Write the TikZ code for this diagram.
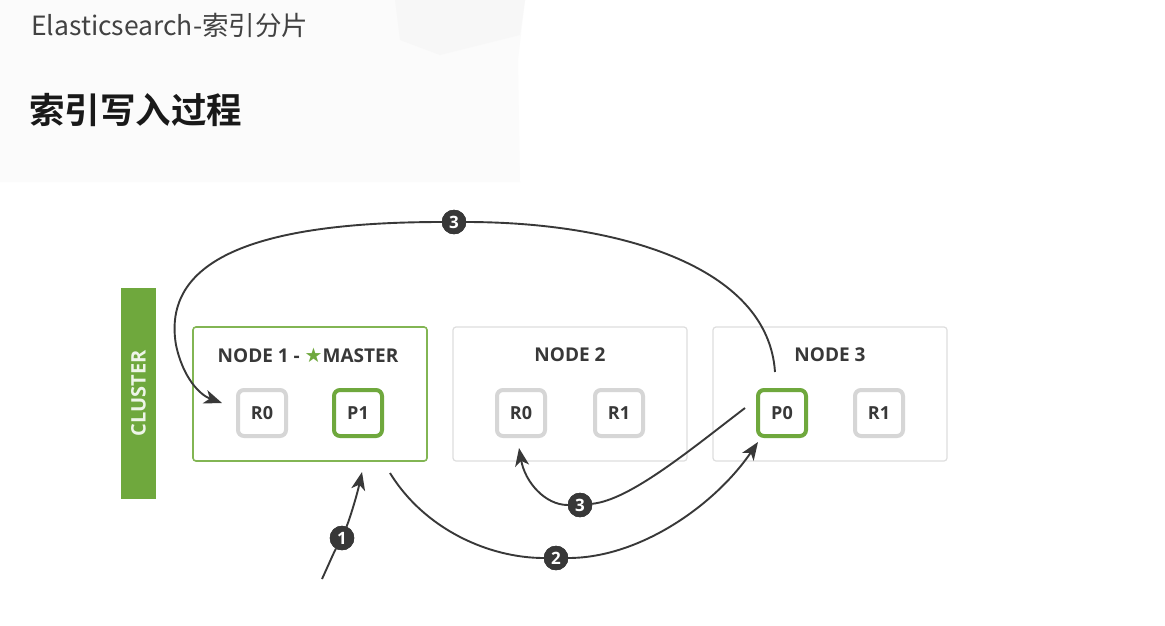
\documentclass[tikz,border=0pt]{standalone}
\usepackage{fontspec}
\setmainfont{Open Sans}
\newfontfamily\cjk{Noto Sans CJK SC}
\newfontfamily\cjkb{Noto Sans CJK SC}[BoldFont={* Bold}]
\newfontfamily\djv{DejaVu Sans}
\usetikzlibrary{arrows.meta}
\definecolor{esgreen}{HTML}{6FA83D}
\definecolor{esgreenl}{HTML}{82B553}
\definecolor{esgray}{HTML}{D6D6D6}
\definecolor{boxgray}{HTML}{DEDEDE}
\definecolor{ink}{HTML}{383838}
\tikzset{
  esbox/.style={draw=boxgray, line width=1.2pt, rounded corners=3pt, minimum width=234pt, minimum height=134pt, inner sep=0pt},
  esboxg/.style={esbox, draw=esgreenl, line width=1.6pt},
  shard/.style={draw=esgray, line width=4pt, rounded corners=6pt, minimum width=48pt, minimum height=46pt, inner sep=0pt, font=\bfseries\fontsize{18}{18}\selectfont, text=ink},
  shardp/.style={shard, draw=esgreen},
  ntitle/.style={font=\bfseries\fontsize{19}{19}\selectfont, text=ink, inner sep=0pt},
  badge/.style={circle, fill=ink, draw=ink, minimum size=24pt, inner sep=0pt, text=white, font=\bfseries\fontsize{17}{17}\selectfont},
  conn/.style={draw=ink, line width=1.9pt},
  arr/.style={conn, -{Stealth[length=18pt, width=14pt, inset=5pt]}},
}
\begin{document}
\begin{tikzpicture}[x=1pt, y=-1pt]
\useasboundingbox (0,0) rectangle (1165,625);
\fill[white] (0,0) rectangle (1165,625);
% subtle background
\fill[gray!3] (0,0) -- (525,0) -- (518,60) -- (520,182) -- (0,182) -- cycle;
\fill[gray!6] (395,0) -- (525,0) -- (520,35) -- (440,55) -- (400,40) -- cycle;

% titles
\node[anchor=west, inner sep=0pt, text=ink!95, font=\cjk\fontsize{26.5}{26.5}\selectfont] (t1) at (31,25) {Elasticsearch-索引分片};
\node[anchor=west, inner sep=0pt, text=black!90, font=\cjkb\bfseries\fontsize{35.5}{35.5}\selectfont] (t2) at (29,110) {索引写入过程};

% cluster bar
\node[fill=esgreen, minimum width=35pt, minimum height=211pt, inner sep=0pt] (cl) at (138.5,393.5) {};
\node[rotate=90, text=white!88!esgreen, font=\bfseries\fontsize{20}{20}\selectfont, inner sep=0pt] (clt) at (138.5,393.5) {CLUSTER};

% node boxes
\node[esboxg] (n1) at (310,394) {};
\node[esbox] (n2) at (570,394) {};
\node[esbox] (n3) at (830,394) {};

\node[ntitle] (n1t) at (308,355) {NODE 1 - {\color{esgreen}\djv\fontsize{20}{20}\selectfont ★}MASTER};
\node[ntitle] (n2t) at (570,355) {NODE 2};
\node[ntitle] (n3t) at (830,355) {NODE 3};

% shards
\node[shard]  (r0a) at (262,413) {R0};
\node[shardp] (p1)  at (358,413) {P1};
\node[shard]  (r0b) at (521,413) {R0};
\node[shard]  (r1b) at (619,413) {R1};
\node[shardp] (p0)  at (782,413) {P0};
\node[shard]  (r1c) at (879,413) {R1};

% badges
\node[badge] (b1)  at (342,538) {1};
\node[badge] (b2)  at (556,558) {2};
\node[badge] (b3l) at (580,505) {3};
\node[badge] (b3t) at (454,222) {3};

% free ends
\coordinate (s1) at (322,579);
\coordinate (e1) at (362,472);
\coordinate (s2) at (390,473);
\coordinate (e2) at (758,442);
\coordinate (s3) at (745,408);
\coordinate (e3) at (519,448);
\coordinate (s4) at (775,372);
\coordinate (e4) at (222,403);

% arrow 1
\draw[conn] (s1) .. controls (328,566) and (334,552) .. (b1);
\draw[arr] (b1) .. controls (350,518) and (357,495) .. (e1);
% arrow 2
\draw[conn] (s2) .. controls (425,530) and (490,558) .. (b2);
\draw[arr] (b2) .. controls (640,558) and (715,505) .. (e2);
% arrow 3 lower
\draw[conn] (s3) .. controls (690,450) and (630,500) .. (b3l);
\draw[arr] (b3l) .. controls (545,505) and (525,482) .. (e3);
% arrow 3 top
\draw[conn] (s4) .. controls (768,265) and (615,222) .. (b3t);
\draw[arr] (b3t) .. controls (250,222) and (162,262) .. (176,345) .. controls (183,378) and (200,395) .. (e4);

% redraw badges on top
\node[badge] at (b1) {1};
\node[badge] at (b2) {2};
\node[badge] at (b3l) {3};
\node[badge] at (b3t) {3};
\end{tikzpicture}
\end{document}
